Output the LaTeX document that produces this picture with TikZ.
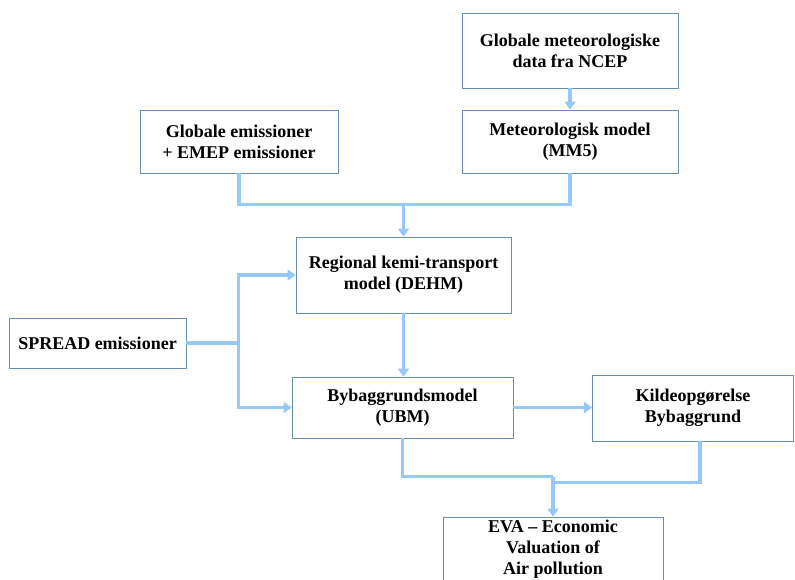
\documentclass[tikz,border=0pt]{standalone}
\usepackage{fontspec}
\setmainfont{Liberation Serif}
\usetikzlibrary{arrows.meta,positioning,calc}

\definecolor{boxline}{RGB}{105,140,185}
\definecolor{flowblue}{RGB}{150,200,250}

\begin{document}
\begin{tikzpicture}[x=1pt, y=-1pt,
    block/.style={draw=boxline, line width=0.8pt, fill=white, align=center, inner sep=0pt,
        font=\fontsize{18}{21}\selectfont\bfseries},
    link/.style={draw=flowblue, line width=3.6pt},
    arrow/.style={link, -{Triangle[width=11pt,length=8pt]}}]

        \clip (0,0) rectangle (795,579);

        % meteorology
        \node [block, minimum width=216pt, minimum height=75pt] (ncep) at (570,50.5) {Globale meteorologiske\\data fra NCEP};
        \node [block, minimum width=216pt, minimum height=63pt] (mm5) at (570,141.5) {Meteorologisk model\\(MM5)};

        % emissions
        \node [block, minimum width=198pt, minimum height=63pt] (glob) at (239,141.5) {Globale emissioner\\+ EMEP emissioner};
        \node [block, minimum width=177pt, minimum height=50pt] (spread) at (97.5,343) {SPREAD emissioner};

        % models
        \node [block, minimum width=215pt, minimum height=76pt] (dehm) at (403.5,275) {Regional kemi-transport\\model (DEHM)};
        \node [block, minimum width=221pt, minimum height=61pt] (ubm) at (402.5,407.5) {Bybaggrundsmodel\\(UBM)};
        \node [block, minimum width=201pt, minimum height=66pt] (kilde) at (693,408) {Kildeopgørelse\\Bybaggrund};
        \node [block, minimum width=220pt, minimum height=64pt] (eva) at (553,549) {EVA – Economic\\Valuation of\\Air pollution};

        \coordinate (topjoin) at ($(dehm.north)+(0,-32)$);
        \coordinate (split) at ($(spread.east)+(52,0)$);
        \coordinate (botjoin) at ($(eva.north)+(0,-40)$);
        \coordinate (kildeout) at ($(kilde.south)+(7,0)$);

        % Arrows
        \draw [arrow] (ncep) -- (mm5);
        \draw [link] (glob.south) |- (topjoin) -| (mm5.south);
        \draw [arrow] (topjoin) -- (dehm.north);

        \draw [link] (spread.east) -- (split);
        \draw [arrow] (split) |- (dehm.west);
        \draw [arrow] (split) |- (ubm.west);

        \draw [arrow] (dehm.south) -- (dehm.south |- ubm.north);
        \draw [arrow] (ubm.east) -- (ubm.east -| kilde.west);

        \draw [link] (ubm.south) |- (botjoin);
        \draw [link] (kildeout) |- ($(botjoin)+(0,6)$);
        \draw [arrow] (botjoin) -- (eva.north);

    \end{tikzpicture}
\end{document}
